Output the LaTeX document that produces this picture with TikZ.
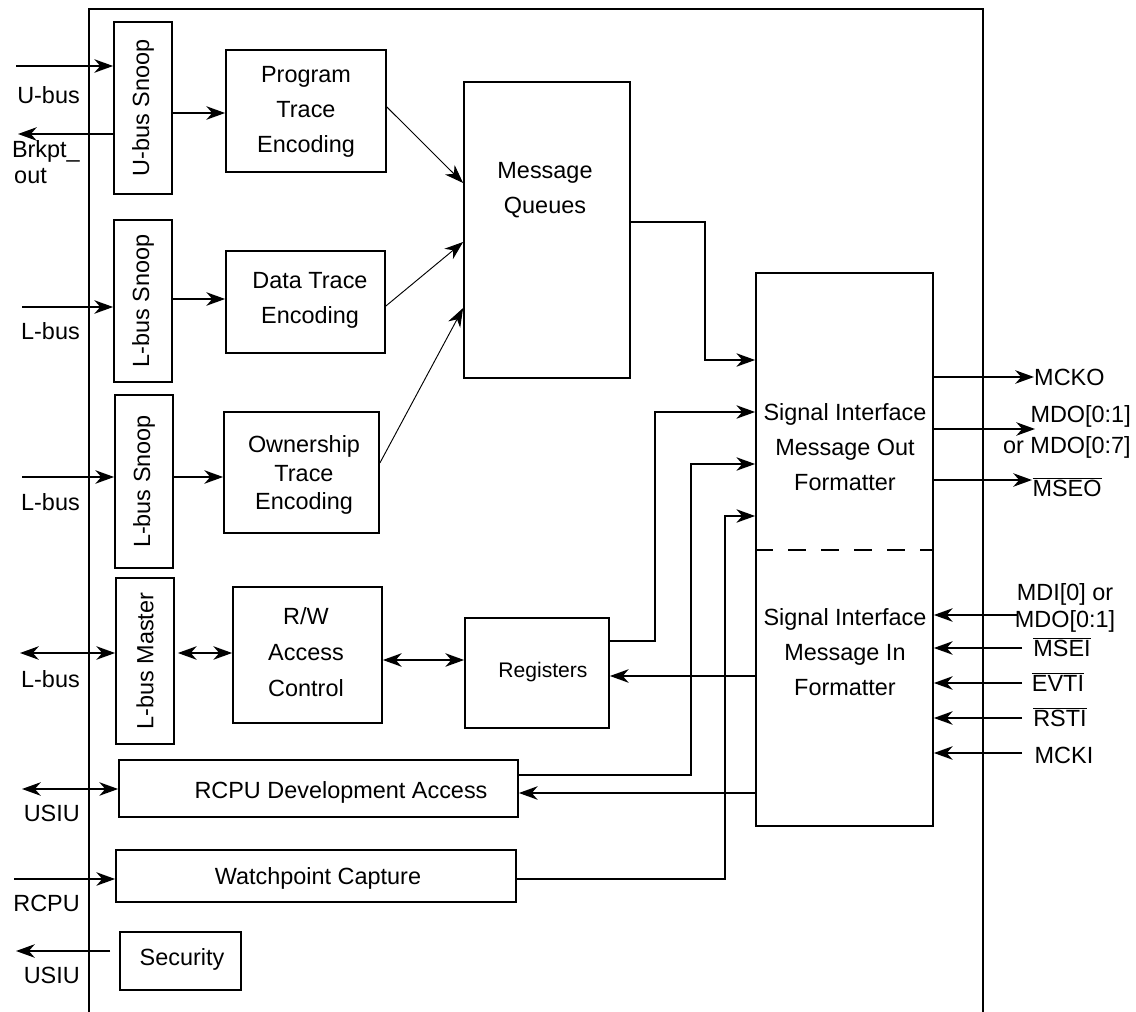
\documentclass[tikz,border=0pt]{standalone}
\usepackage{fontspec}
\setmainfont{Liberation Sans}
\usetikzlibrary{arrows.meta}
\begin{document}
\begin{tikzpicture}[x=0.03cm,y=-0.03cm,
  every node/.style={font=\fontsize{20}{29.8}\selectfont, inner sep=0pt},
  box/.style={draw, line width=1.5pt, rectangle},
  sz/.style 2 args={minimum width=#1*0.03cm, minimum height=#2*0.03cm},
  ln/.style={line width=1.5pt},
  tip/.tip={Stealth[length=16pt,width=11.5pt,inset=5pt]},
  arr/.style={line width=1.5pt, -tip},
  thinarr/.style={line width=0.8pt, -tip},
  darr/.style={line width=1.5pt, tip-tip},
]
\useasboundingbox (0,0) rectangle (1136,1012);
% frame
\draw[ln] (89,1012) -- (89,9) -- (983,9) -- (983,1012);

% boxes
\node[box, sz={58}{172}] (ubs) at (143,108) {};
\node[rotate=90] at (ubs) {U-bus Snoop};
\node[box, sz={160}{122}] (pte) at (306,111) {};
\node[align=center] at (306,112) {Program\\Trace\\Encoding};
\node[box, sz={166}{296}] (mq) at (547,230) {};
\node[align=center] at (545,190) {Message\\Queues};
\node[box, sz={58}{162}] (lbs1) at (143,301) {};
\node[rotate=90] at (lbs1) {L-bus Snoop};
\node[box, sz={159}{102}] (dte) at (305.5,302) {};
\node[align=center] at (310,300) {Data Trace\\Encoding};
\node[box, sz={58}{173}] (lbs2) at (144,481.5) {};
\node[rotate=90] at (lbs2) {L-bus Snoop};
\node[box, sz={155}{121}] (ote) at (301.5,472.5) {};
\node[align=center, font=\fontsize{20}{24.2}\selectfont] at (304,475) {Ownership\\Trace\\Encoding};
\node[box, sz={58}{166}] (lbm) at (145,661) {};
\node[rotate=90] at (lbm) {L-bus Master};
\node[box, sz={149}{136}] (rw) at (307.5,655) {};
\node[align=center, font=\fontsize{20}{31}\selectfont] at (306,652) {R/W\\Access\\Control};
\node[box, sz={144}{110}] (reg) at (537,673) {};
\node[font=\fontsize{18}{20}\selectfont] at (543,672) {Registers};
\node[box, sz={399}{57}] (rcpu) at (318.5,788.5) {};
\node at (341,792) {RCPU Development Access};
\node[box, sz={400}{52}] (wpc) at (316,876) {};
\node at (318,878) {Watchpoint Capture};
\node[box, sz={121}{58}] (sec) at (180.5,961) {};
\node at (182,959) {Security};
\node[box, sz={177}{553}] (sig) at (844.5,549.5) {};
\draw[ln, dash pattern=on 0.54cm off 0.45cm] (sig.west |- 0,550) -- (sig.east |- 0,550);
\node[align=center] at (845,447) {Signal Interface\\Message Out\\Formatter};
\node[align=center] at (845,652) {Signal Interface\\Message In\\Formatter};

% left labels
\node[anchor=east] (ubl) at (80,95) {U-bus};
\node[anchor=base east] (brk) at (80,158) {Brkpt\_};
\node[anchor=base west] (brk2) at (14,184) {out};
\node[anchor=east] (lbl1) at (80,331) {L-bus};
\node[anchor=east] (lbl2) at (80,502) {L-bus};
\node[anchor=east] (lbl3) at (80,679) {L-bus};
\node[anchor=east] (usl1) at (80,813) {USIU};
\node[anchor=east] (rcl) at (80,903) {RCPU};
\node[anchor=east] (usl2) at (80,975) {USIU};

\coordinate (ubin) at (16,66);
\coordinate (brkend) at (18,134);
\coordinate (lb1in) at (22,307);
\coordinate (lb2in) at (22,477);
\coordinate (lbmend) at (20,653);
\coordinate (usiu1) at (22,789);
\coordinate (rcpuin) at (14,879);
\coordinate (usiu2) at (16,951);

\draw[arr] (ubin) -- (ubs.west |- ubin);
\draw[arr] (ubs.west |- brkend) -- (brkend);
\draw[arr] (lb1in) -- (lbs1.west |- lb1in);
\draw[arr] (lb2in) -- (lbs2.west |- lb2in);
\draw[darr] (lbmend) -- (lbm.west |- lbmend);
\draw[darr] (usiu1) -- (rcpu.west |- usiu1);
\draw[arr] (rcpuin) -- (wpc.west |- rcpuin);
\draw[arr] ([xshift=-0.27cm]sec.west |- usiu2) -- (usiu2);

% internal
\draw[arr] (ubs.east |- 0,113) -- (pte.west |- 0,113);
\draw[thinarr] (pte.east |- 0,107) -- (mq.west |- 0,183);
\draw[arr] (lbs1.east |- 0,299) -- (dte.west |- 0,299);
\draw[thinarr] (dte.east |- 0,306) -- (mq.west |- 0,242);
\draw[arr] (lbs2.east |- 0,477) -- (ote.west |- 0,477);
\draw[thinarr] (ote.east |- 0,463) -- (mq.west |- 0,308);
\draw[darr] ([xshift=0.09cm]lbm.east |- 0,653) -- (rw.west |- 0,653);
\draw[darr] (rw.east |- 0,660) -- (reg.west |- 0,660);
\draw[arr] (mq.east |- 0,222) -- ++(74,0) |- (sig.west |- 0,360);
\draw[arr] (reg.east |- 0,641) -- ++(45,0) |- (sig.west |- 0,412);
\draw[arr] (rcpu.east |- 0,775) -- ++(172,0) |- (sig.west |- 0,464);
\draw[arr] (wpc.east |- 0,879) -- ++(208,0) |- (sig.west |- 0,516);
\draw[arr] (sig.west |- 0,676) -- (reg.east |- 0,676);
\draw[arr] (sig.west |- 0,793) -- (rcpu.east |- 0,793);

% right labels
\node[anchor=west] (mcko) at (1034,377) {MCKO};
\node[anchor=east, align=right, font=\fontsize{20}{26.4}\selectfont] (mdo) at (1131,432) {MDO[0:1]\\or MDO[0:7]};
\node (mseo) at (1067,487) {$\overline{\mbox{MSEO}}$};
\node[align=center, font=\fontsize{20}{23}\selectfont] (mdi) at (1065,608) {MDI[0] or\\MDO[0:1]};
\node (msei) at (1062,647) {$\overline{\mbox{MSEI}}$};
\node (evti) at (1058,682) {$\overline{\mbox{EVTI}}$};
\node (rsti) at (1060,717) {$\overline{\mbox{RSTI}}$};
\node (mcki) at (1064,755) {MCKI};

\coordinate (mdoend) at (1035,429);
\coordinate (mseoend) at (1032,480);
\coordinate (mdiin) at (1018,615);
\coordinate (mseiin) at (1022,648);
\coordinate (evtiin) at (1022,683);
\coordinate (rstiin) at (1022,718);
\coordinate (mckiin) at (1022,753);

\draw[arr] (sig.east |- mcko.west) -- (mcko.west);
\draw[arr] (sig.east |- mdoend) -- (mdoend);
\draw[arr] (sig.east |- mseoend) -- (mseoend);
\draw[arr] (mdiin) -- (sig.east |- mdiin);
\draw[arr] (mseiin) -- (sig.east |- mseiin);
\draw[arr] (evtiin) -- (sig.east |- evtiin);
\draw[arr] (rstiin) -- (sig.east |- rstiin);
\draw[arr] (mckiin) -- (sig.east |- mckiin);
\end{tikzpicture}
\end{document}
